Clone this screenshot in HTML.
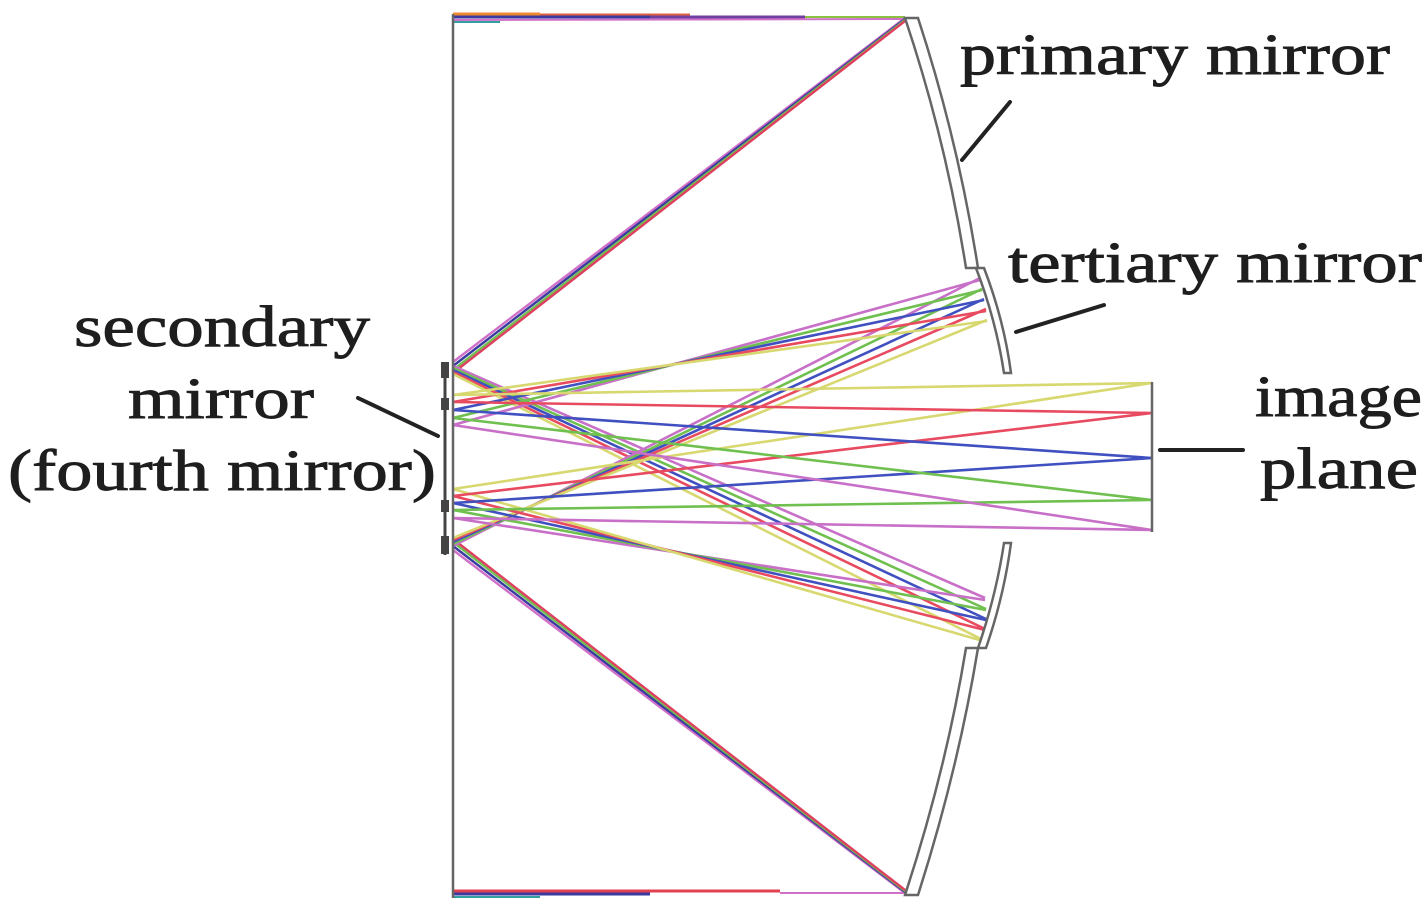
<!DOCTYPE html>
<html><head><meta charset="utf-8"><style>
html,body{margin:0;padding:0;background:#fff;}
svg{display:block;}
text{font-family:"Liberation Serif","DejaVu Serif",serif;fill:#1e1e1e;stroke:#1e1e1e;stroke-width:0.9;font-size:58px;}
</style></head><body>
<svg width="1424" height="912" viewBox="0 0 1424 912" xmlns="http://www.w3.org/2000/svg">
<g fill="none" stroke-width="2.6">
<line x1="453" y1="14" x2="540" y2="14" stroke="#f08a30" stroke-width="3"/>
<line x1="540" y1="15" x2="690" y2="15" stroke="#e06040" stroke-width="3"/>
<line x1="453" y1="17" x2="650" y2="17" stroke="#3a3aa0" stroke-width="3"/>
<line x1="650" y1="17" x2="805" y2="17" stroke="#7040a0" stroke-width="3"/>
<line x1="805" y1="17" x2="905" y2="17" stroke="#8cc040" stroke-width="2"/>
<line x1="453" y1="20" x2="905" y2="19" stroke="#d070c8" stroke-width="2"/>
<line x1="453" y1="22" x2="500" y2="22" stroke="#30a0a0" stroke-width="2"/>
<line x1="453" y1="891" x2="780" y2="891" stroke="#e04050" stroke-width="3"/>
<line x1="453" y1="894" x2="650" y2="894" stroke="#3a3aa0" stroke-width="3"/>
<line x1="780" y1="893" x2="905" y2="893" stroke="#d070c8" stroke-width="2"/>
<line x1="453" y1="897" x2="540" y2="897" stroke="#30a0a0" stroke-width="2"/>
<g stroke-width="2.4">
<line x1="905" y1="18" x2="453" y2="362" stroke="#d070c8"/>
<line x1="905" y1="19" x2="453" y2="366" stroke="#3a3aa0"/>
<line x1="905" y1="20" x2="453" y2="370" stroke="#70c050"/>
<line x1="905" y1="21" x2="453" y2="373" stroke="#e04060"/>
<line x1="905" y1="893" x2="453" y2="550" stroke="#d070c8"/>
<line x1="905" y1="892" x2="453" y2="546" stroke="#3a3aa0"/>
<line x1="905" y1="891" x2="453" y2="542" stroke="#70c050"/>
<line x1="905" y1="890" x2="453" y2="539" stroke="#e04060"/>
</g>
<g stroke-width="2.6">
<line x1="453" y1="366" x2="985" y2="598" stroke="#c870c8"/>
<line x1="453" y1="368" x2="986" y2="609" stroke="#70c050"/>
<line x1="453" y1="370" x2="986" y2="619" stroke="#4050c0"/>
<line x1="453" y1="372" x2="985" y2="629" stroke="#e84a60"/>
<line x1="453" y1="374" x2="983" y2="640" stroke="#d8d870"/>
<line x1="453" y1="546" x2="980" y2="278" stroke="#c870c8"/>
<line x1="453" y1="544" x2="982" y2="289" stroke="#70c050"/>
<line x1="453" y1="542" x2="984" y2="299" stroke="#4050c0"/>
<line x1="453" y1="540" x2="986" y2="309" stroke="#e84a60"/>
<line x1="453" y1="538" x2="987" y2="320" stroke="#d8d870"/>
<line x1="980" y1="280" x2="453" y2="425" stroke="#c870c8"/>
<line x1="982" y1="290" x2="453" y2="418" stroke="#70c050"/>
<line x1="984" y1="300" x2="453" y2="410" stroke="#4050c0"/>
<line x1="986" y1="311" x2="453" y2="402" stroke="#e84a60"/>
<line x1="987" y1="321" x2="453" y2="395" stroke="#d8d870"/>
<line x1="985" y1="600" x2="453" y2="518" stroke="#c870c8"/>
<line x1="986" y1="610" x2="453" y2="510" stroke="#70c050"/>
<line x1="986" y1="620" x2="453" y2="503" stroke="#4050c0"/>
<line x1="985" y1="630" x2="453" y2="496" stroke="#e84a60"/>
<line x1="983" y1="641" x2="453" y2="489" stroke="#d8d870"/>
<line x1="453" y1="395" x2="1152" y2="383" stroke="#d8d870"/>
<line x1="453" y1="489" x2="1152" y2="383" stroke="#d8d870"/>
<line x1="453" y1="402" x2="1152" y2="413" stroke="#e84a60"/>
<line x1="453" y1="496" x2="1152" y2="413" stroke="#e84a60"/>
<line x1="453" y1="410" x2="1152" y2="458" stroke="#4050c0"/>
<line x1="453" y1="503" x2="1152" y2="458" stroke="#4050c0"/>
<line x1="453" y1="418" x2="1152" y2="500" stroke="#70c050"/>
<line x1="453" y1="510" x2="1152" y2="500" stroke="#70c050"/>
<line x1="453" y1="425" x2="1152" y2="530" stroke="#c870c8"/>
<line x1="453" y1="518" x2="1152" y2="530" stroke="#c870c8"/>
</g>
</g>
<g stroke="#666" fill="#fff" stroke-width="2.5">
<line x1="453" y1="14" x2="453" y2="898"/>
<path d="M905,18 L918,18 Q958,140 978,268 L966,268 Q946,140 905,18 Z"/>
<path d="M905,895 L918,895 Q958,770 978,648 L966,648 Q946,770 905,895 Z"/>
<path d="M976,268 L984,268 Q1004,320 1011,373 L1004,373 Q996,320 976,268 Z"/>
<path d="M978,648 L986,648 Q1004,596 1011,543 L1004,543 Q996,596 978,648 Z"/>
<line x1="1152" y1="382" x2="1152" y2="532"/>
</g>
<g fill="#444">
<rect x="441" y="362" width="8" height="16"/>
<rect x="441" y="398" width="8" height="12"/>
<rect x="441" y="500" width="8" height="12"/>
<rect x="441" y="536" width="8" height="18"/>
</g>
<line x1="445" y1="362" x2="445" y2="555" stroke="#444" stroke-width="3"/>
<g stroke="#222" stroke-width="4" stroke-linecap="round">
<line x1="1010" y1="102" x2="962" y2="160"/>
<line x1="1104" y1="305" x2="1016" y2="332"/>
<line x1="358" y1="398" x2="438" y2="436"/>
<line x1="1160" y1="450" x2="1243" y2="450"/>
</g>
<text x="960" y="74" textLength="430" lengthAdjust="spacingAndGlyphs">primary mirror</text>
<text x="1008" y="282" textLength="414" lengthAdjust="spacingAndGlyphs">tertiary mirror</text>
<text x="74" y="346" textLength="296" lengthAdjust="spacingAndGlyphs">secondary</text>
<text x="128" y="418" textLength="186" lengthAdjust="spacingAndGlyphs">mirror</text>
<text x="8" y="490" textLength="428" lengthAdjust="spacingAndGlyphs">(fourth mirror)</text>
<text x="1255" y="416" textLength="167" lengthAdjust="spacingAndGlyphs">image</text>
<text x="1260" y="488" textLength="158" lengthAdjust="spacingAndGlyphs">plane</text>
</svg>
</body></html>
